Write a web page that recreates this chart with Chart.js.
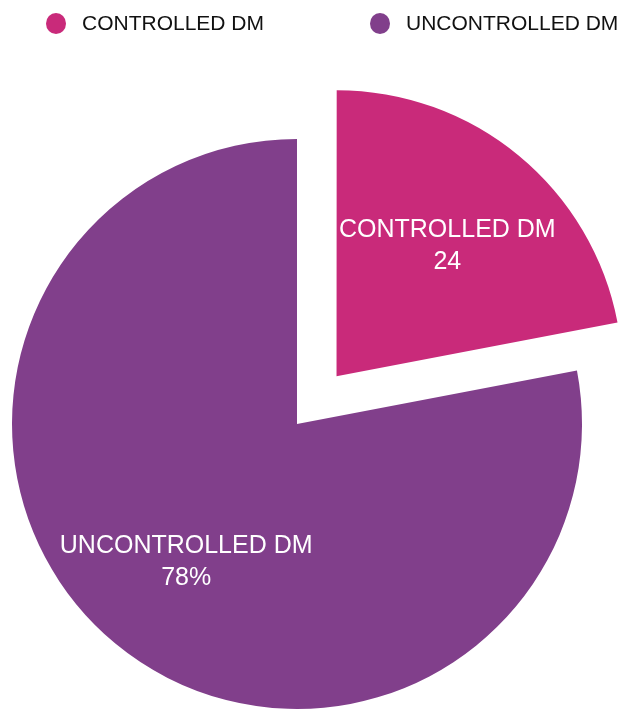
<!DOCTYPE html>
<html>
<head>
<meta charset="utf-8">
<script src="https://cdn.jsdelivr.net/npm/chart.js@4.4.0/dist/chart.umd.min.js"></script>
<style>
  html, body { margin: 0; padding: 0; background: #fff; }
  #wrap { position: relative; width: 623px; height: 710px; }
  #legend {
    position: absolute; top: 12px; left: 46px; margin: 0; padding: 0;
    list-style: none; display: flex;
    font-family: "Liberation Sans", Arial, sans-serif; font-size: 21px; color: #111;
  }
  #legend li { display: flex; align-items: center; width: 324px; height: 22px; white-space: nowrap; }
  #legend li:last-child { width: auto; }
  #legend .dot { flex: none; width: 20px; height: 21px; border-radius: 50%; margin-right: 16px; }
</style>
</head>
<body>
<div id="wrap">
  <canvas id="myChart" width="623" height="710"></canvas>
  <ul id="legend"></ul>
</div>
<script>
const categories = ["CONTROLLED DM", "UNCONTROLLED DM"];
const values = [22, 78];
const valueLabels = ["24", "78%"];
const colors = ["#c92a7a", "#813f8b"];

// legend built as html so the wide spacing of the original can be kept
const htmlLegend = {
  id: "htmlLegend",
  afterUpdate(chart) {
    const ul = document.getElementById("legend");
    ul.innerHTML = "";
    const items = chart.options.plugins.legend.labels.generateLabels(chart);
    items.forEach((item) => {
      const li = document.createElement("li");
      const dot = document.createElement("span");
      dot.className = "dot";
      dot.style.background = item.fillStyle;
      li.appendChild(dot);
      li.appendChild(document.createTextNode(item.text));
      ul.appendChild(li);
    });
  },
};

// two-line labels inside each slice
const sliceLabels = {
  id: "sliceLabels",
  afterDatasetsDraw(chart) {
    const ctx = chart.ctx;
    const meta = chart.getDatasetMeta(0);
    ctx.save();
    ctx.font = "25px 'Liberation Sans', Arial, sans-serif";
    ctx.fillStyle = "#ffffff";
    ctx.textAlign = "center";
    ctx.textBaseline = "middle";
    meta.data.forEach((arc, i) => {
      const p = arc.getProps(["x", "y", "startAngle", "endAngle", "outerRadius"], true);
      const mid = (p.startAngle + p.endAngle) / 2;
      // arcs are moved out by a quarter of their offset option
      const dist = arc.options.offset / 4 + p.outerRadius * 0.61;
      const x = p.x + Math.cos(mid) * dist;
      const y = p.y + Math.sin(mid) * dist + 4;
      ctx.fillText(chart.data.labels[i], x, y - 16);
      ctx.fillText(valueLabels[i], x, y + 16);
    });
    ctx.restore();
  },
};

const ctx = document.getElementById("myChart").getContext("2d");
new Chart(ctx, {
  type: "pie",
  data: {
    labels: categories,
    datasets: [
      {
        data: values,
        backgroundColor: colors,
        borderWidth: 0,
        offset: [248, 0],
        hoverOffset: 0,
        clip: false,
      },
    ],
  },
  options: {
    responsive: false,
    animation: false,
    radius: 285,
    layout: { padding: { top: 138, right: 29, bottom: 0, left: 0 } },
    plugins: {
      legend: { display: false },
      tooltip: { enabled: false },
    },
  },
  plugins: [htmlLegend, sliceLabels],
});
</script>
</body>
</html>
